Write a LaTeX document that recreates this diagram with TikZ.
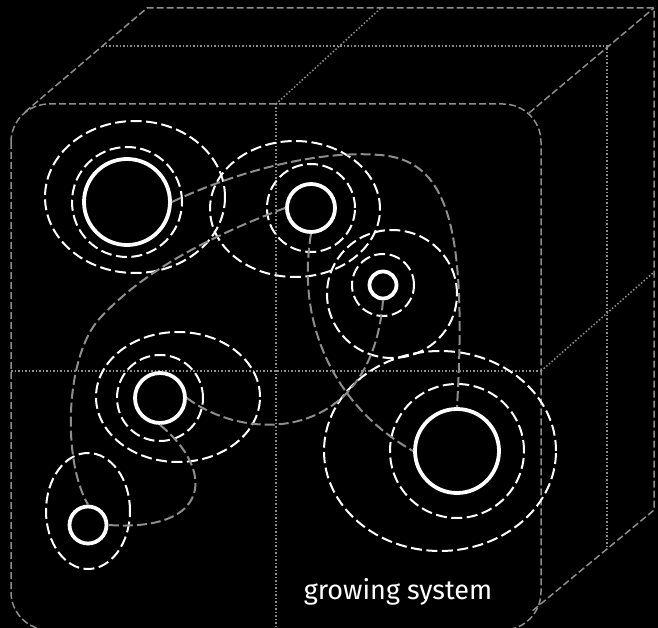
\documentclass[tikz,border=0pt]{standalone}
\usepackage{fontspec}
\setmainfont{Fira Sans}
\usepackage{xcolor}
\definecolor{wiregray}{HTML}{8D8D8D}

\begin{document}
\begin{tikzpicture}[x=1pt,y=-1pt]
  \tikzset{cell/.style={circle, draw=white, line width=3.8pt, inner sep=0pt, minimum size=#1}}
  \tikzset{halo/.style={draw=white, line width=2pt, dash pattern=on 11pt off 4.5pt}}
  \tikzset{link/.style={draw=wiregray, line width=2pt, dash pattern=on 10pt off 4pt}}
  \tikzset{rim/.style={draw=wiregray, line width=1.5pt, dash pattern=on 7pt off 3pt}}
  \tikzset{slice/.style={draw=wiregray, line width=1.5pt, dash pattern=on 1.5pt off 2pt}}

\fill[black] (0,0) rectangle (658,628);
\useasboundingbox (0,0) rectangle (658,628);

% box
\draw[rim, rounded corners=38pt] (11,104) rectangle (541,630);
\draw[rim] (25,112) -- (147,8) -- (654,8) -- (654,510) -- (531,612);
\draw[rim] (529,113) -- (654,8);
\draw[slice] (276,104) -- (276,630) (11,371) -- (541,371);
\draw[slice] (276,104) -- (381,8) (541,371) -- (654,272);
\draw[slice] (102,46) -- (607,46) -- (607,547);

% halos
\draw[halo] (127,202) circle [radius=55pt];
\draw[halo] (135,197) ellipse [x radius=90pt, y radius=76pt];
\draw[halo] (311,208) circle [radius=44pt];
\draw[halo] (295,209) ellipse [x radius=85pt, y radius=68pt];
\draw[halo] (383,285) circle [radius=31pt];
\draw[halo] (392,294) ellipse [x radius=65pt, y radius=64pt];
\draw[halo] (457,451) circle [radius=67pt];
\draw[halo] (440,451) ellipse [x radius=116pt, y radius=100pt];
\draw[halo] (160,398) circle [radius=43pt];
\draw[halo] (178,397) ellipse [x radius=82pt, y radius=65pt];
\draw[halo] (88,511) ellipse [x radius=42pt, y radius=58pt];

% cells
\node[cell=86pt] (c1) at (127,202) {};
\node[cell=48pt] (c2) at (311,208) {};
\node[cell=27pt] (c3) at (383,285) {};
\node[cell=84pt] (c4) at (457,451) {};
\node[cell=50pt] (c5) at (160,398) {};
\node[cell=37pt] (c6) at (88,525) {};

% links
\draw[link] (c1.east) .. controls (240,170) and (320,150) .. (380,155)
  .. controls (445,160) and (468,220) .. (c4.north);
\draw[link] (c2.west) .. controls (200,240) and (140,275) .. (100,318)
  .. controls (65,356) and (62,460) .. (c6.north);
\draw[link] (c3.south) .. controls (372,440) and (250,445) .. (c5.east);
\draw[link] (c2.south) .. controls (295,330) and (340,410) .. (c4.west);
\draw[link] (c5.south) .. controls (215,470) and (212,532) .. (c6.east);

\node[text=white, font=\fontsize{27}{27}\selectfont, anchor=base] (caption) at (398,599) {growing system};
\end{tikzpicture}
\end{document}
